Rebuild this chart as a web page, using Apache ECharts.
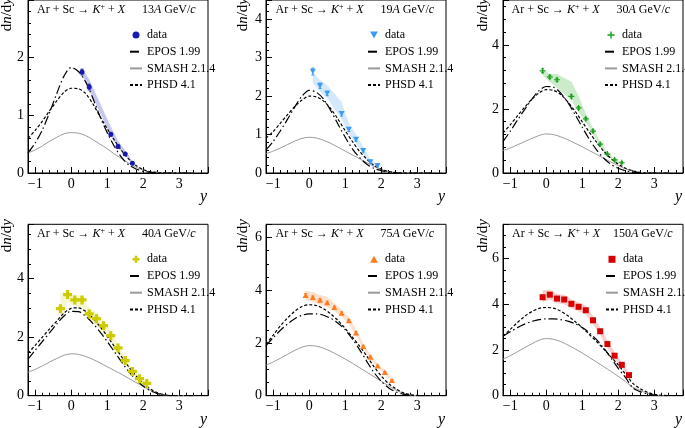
<!DOCTYPE html>
<html><head><meta charset="utf-8">
<script src="https://cdn.jsdelivr.net/npm/echarts@6/dist/echarts.min.js"></script>
<style>html,body{margin:0;padding:0;background:#fff}#c{width:685px;height:428px}</style>
</head><body><div id="c"></div>
<script>
// ---- model rapidity grid ----
const rapidityGrid = [-1.2,-1.0,-0.8,-0.6,-0.4,-0.2,0,0.2,0.4,0.6,0.8,1.0,1.2,1.4,1.6,1.8,2.0,2.2,2.4,2.6,2.8,3.0,3.2,3.4];

// ---- 13A GeV/c ----
const epos13  = [0.35,0.52,0.75,1.05,1.38,1.68,1.83,1.76,1.58,1.3,0.98,0.7,0.46,0.27,0.14,0.07,0.03,0.01,0,0,0,0,0,0];
const phsd13  = [0.6,0.74,0.9,1.08,1.25,1.4,1.47,1.46,1.38,1.2,0.98,0.77,0.57,0.39,0.24,0.13,0.06,0.02,0.01,0,0,0,0,0];
const smash13 = [0.35,0.4,0.47,0.55,0.62,0.68,0.7,0.69,0.65,0.58,0.5,0.42,0.33,0.25,0.17,0.1,0.05,0.02,0.01,0,0,0,0,0];
const dataX13 = [0.3,0.5,1.1,1.3,1.5,1.7];
const dataY13 = [1.75,1.49,0.67,0.46,0.33,0.17];
const err13   = [0.05,0.05,0.03,0.03,0.02,0.02];
const sysLo13 = [1.70,1.45,0.64,0.44,0.30,0.15];
const sysHi13 = [1.82,1.62,0.80,0.56,0.39,0.21];

// ---- 19A GeV/c ----
const epos19  = [0.6,0.82,1.1,1.4,1.72,2.0,2.15,2.1,1.92,1.62,1.27,0.93,0.63,0.4,0.23,0.12,0.06,0.02,0.01,0,0,0,0,0];
const phsd19  = [0.9,1.08,1.3,1.52,1.73,1.9,2.0,1.98,1.87,1.67,1.4,1.1,0.82,0.56,0.36,0.2,0.1,0.04,0.01,0,0,0,0,0];
const smash19 = [0.5,0.57,0.65,0.74,0.83,0.9,0.93,0.91,0.85,0.77,0.67,0.57,0.47,0.37,0.27,0.17,0.09,0.04,0.01,0,0,0,0,0];
const dataX19 = [0.1,0.3,0.5,0.9,1.1,1.3,1.5,1.7,1.9];
const dataY19 = [2.64,2.27,2.07,1.54,1.13,0.87,0.58,0.29,0.19];
const err19   = [0.09,0.07,0.06,0.06,0.05,0.05,0.04,0.04,0.03];
const sysLo19 = [2.35,2.12,1.95,1.40,1.00,0.78,0.50,0.24,0.15];
const sysHi19 = [2.62,2.42,2.28,1.85,1.30,1.00,0.68,0.36,0.22];

// ---- 30A GeV/c ----
const epos30  = [0.98,1.3,1.65,1.98,2.3,2.57,2.7,2.68,2.5,2.2,1.83,1.43,1.05,0.72,0.46,0.27,0.15,0.07,0.03,0.01,0,0,0,0];
const phsd30  = [1.25,1.5,1.78,2.05,2.3,2.5,2.6,2.58,2.45,2.22,1.93,1.6,1.27,0.96,0.68,0.45,0.28,0.15,0.07,0.02,0,0,0,0];
const smash30 = [0.7,0.78,0.88,0.98,1.08,1.17,1.22,1.2,1.13,1.04,0.93,0.82,0.7,0.58,0.46,0.34,0.23,0.13,0.06,0.02,0,0,0,0];
const dataX30 = [-0.1,0.1,0.3,0.7,0.9,1.1,1.3,1.5,1.7,1.9,2.1];
const dataY30 = [3.19,3.0,2.91,2.39,2.03,1.69,1.31,0.9,0.59,0.41,0.32];
const err30   = [0.06,0.05,0.05,0.05,0.04,0.04,0.04,0.03,0.03,0.03,0.03];
const sysLo30 = [3.05,2.85,2.65,2.28,1.90,1.60,1.22,0.83,0.53,0.37,0.29];
const sysHi30 = [3.22,3.10,3.09,2.85,2.40,1.85,1.40,0.98,0.65,0.45,0.34];

// ---- 40A GeV/c ----
const epos40  = [1.25,1.55,1.85,2.15,2.45,2.72,2.88,2.87,2.72,2.47,2.18,1.85,1.5,1.15,0.82,0.55,0.33,0.17,0.07,0.02,0,0,0,0];
const phsd40  = [1.45,1.72,2.0,2.28,2.55,2.82,2.98,3.0,2.88,2.65,2.36,2.03,1.68,1.33,0.98,0.68,0.42,0.23,0.1,0.03,0,0,0,0];
const smash40 = [0.8,0.9,1.02,1.15,1.27,1.38,1.43,1.41,1.34,1.24,1.12,0.99,0.86,0.73,0.59,0.45,0.31,0.18,0.08,0.02,0,0,0,0];
const dataX40 = [-0.3,-0.1,0.1,0.3,0.5,0.7,0.9,1.1,1.3,1.5,1.7,1.9,2.1];
const dataY40 = [2.97,3.45,3.27,3.27,2.79,2.63,2.39,2.05,1.63,1.2,0.83,0.58,0.42];
const err40   = [0.06,0.06,0.05,0.05,0.05,0.05,0.04,0.04,0.04,0.03,0.03,0.03,0.03];
const sysLo40 = [2.60,3.20,3.05,3.00,2.60,2.40,2.20,1.90,1.50,1.10,0.75,0.52,0.38];
const sysHi40 = [3.50,3.55,3.40,3.40,3.00,2.85,2.55,2.20,1.75,1.30,0.90,0.63,0.46];

// ---- 75A GeV/c ----
const epos75  = [1.9,2.2,2.48,2.72,2.92,3.05,3.1,3.1,3.05,2.93,2.75,2.5,2.15,1.75,1.3,0.88,0.55,0.3,0.15,0.06,0.02,0,0,0];
const phsd75  = [1.95,2.3,2.65,2.95,3.2,3.38,3.45,3.42,3.3,3.1,2.85,2.55,2.22,1.88,1.5,1.1,0.75,0.47,0.27,0.12,0.04,0.01,0,0];
const smash75 = [1.15,1.28,1.42,1.57,1.72,1.84,1.9,1.88,1.8,1.68,1.54,1.39,1.23,1.06,0.89,0.72,0.55,0.38,0.22,0.1,0.03,0,0,0];
const dataX75 = [-0.1,0.1,0.3,0.5,0.7,0.9,1.1,1.3,1.5,1.7,1.9,2.1,2.3];
const dataY75 = [3.81,3.73,3.63,3.53,3.35,3.13,2.85,2.39,1.87,1.47,1.13,0.89,0.58];
const err75   = [0.06,0.05,0.05,0.05,0.05,0.05,0.04,0.04,0.04,0.04,0.03,0.03,0.03];
const sysLo75 = [3.62,3.55,3.45,3.35,3.20,3.00,2.72,2.28,1.77,1.38,1.05,0.82,0.52];
const sysHi75 = [4.00,3.92,3.82,3.75,3.50,3.27,2.98,2.52,1.98,1.57,1.22,0.97,0.65];

// ---- 150A GeV/c ----
const epos150  = [2.6,2.8,2.98,3.13,3.25,3.33,3.36,3.36,3.33,3.26,3.15,2.98,2.75,2.45,2.08,1.65,1.2,0.8,0.35,0.18,0.08,0.03,0,0];
const phsd150  = [2.6,2.9,3.2,3.47,3.68,3.82,3.86,3.83,3.7,3.5,3.25,2.98,2.68,2.37,2.04,1.7,1.35,0.95,0.55,0.32,0.16,0.06,0.02,0];
const smash150 = [1.6,1.75,1.92,2.1,2.27,2.43,2.5,2.47,2.37,2.22,2.05,1.87,1.67,1.47,1.27,1.06,0.85,0.62,0.38,0.24,0.12,0.04,0,0];
const dataX150 = [-0.1,0.1,0.3,0.5,0.7,0.9,1.1,1.3,1.5,1.7,1.9,2.1,2.3];
const dataY150 = [4.31,4.42,4.25,4.21,4.02,3.89,3.74,3.3,2.82,2.26,1.75,1.35,0.9];
const err150   = [0.07,0.06,0.06,0.06,0.05,0.05,0.05,0.05,0.04,0.04,0.04,0.04,0.03];
const sysLo150 = [4.10,4.20,4.05,4.00,3.82,3.70,3.55,3.12,2.65,2.10,1.62,1.22,0.80];
const sysHi150 = [4.60,4.65,4.45,4.42,4.22,4.08,3.93,3.48,3.00,2.42,1.90,1.48,1.00];

// ---- panel labels ----
const energyLabels = ['13','19','30','40','75','150'];
const yMax = [3.0, 4.5, 5.4, 5.85, 6.5, 7.5];
const yInterval = [1, 1, 2, 2, 2, 2];
const yMinorSplit = [5, 5, 5, 4, 4, 4];

const SERIF = '"Liberation Serif", "Times New Roman", serif';
const W = 180;
const gridLeft = [28, 266, 503, 28, 266, 503];
const gridTop = [-2, -2, -2, 224.3, 224.3, 224.3];
const gridH = [175, 175, 175, 171.4, 171.4, 171.4];

const CROSS_THIN = 'path://M4,0H6V4H10V6H6V10H4V6H0V4H4Z';
const CROSS_THICK = 'path://M3.2,0H6.8V3.2H10V6.8H6.8V10H3.2V6.8H0V3.2H3.2Z';
const TRI_DOWN = 'path://M0,0L10,0L5,9Z';
const TRI_UP = 'path://M5,0L10,9L0,9Z';
const SQUARE = 'path://M0,0H10V10H0Z';

const panels = [
  {epos:epos13, phsd:phsd13, smash:smash13, dx:dataX13, dy:dataY13, err:err13, lo:sysLo13, hi:sysHi13,
   color:'#1a1ab0', band:'#c6c7f0', symbol:'circle', size:5, icon:'circle'},
  {epos:epos19, phsd:phsd19, smash:smash19, dx:dataX19, dy:dataY19, err:err19, lo:sysLo19, hi:sysHi19,
   color:'#3d9cf2', band:'#d3e8fb', symbol:TRI_DOWN, size:6, icon:TRI_DOWN},
  {epos:epos30, phsd:phsd30, smash:smash30, dx:dataX30, dy:dataY30, err:err30, lo:sysLo30, hi:sysHi30,
   color:'#1d9e1d', band:'#cbebcb', symbol:CROSS_THIN, size:6, icon:CROSS_THIN},
  {epos:epos40, phsd:phsd40, smash:smash40, dx:dataX40, dy:dataY40, err:err40, lo:sysLo40, hi:sysHi40,
   color:'#cccc00', band:'#f6f6d2', symbol:CROSS_THICK, size:9, icon:CROSS_THICK},
  {epos:epos75, phsd:phsd75, smash:smash75, dx:dataX75, dy:dataY75, err:err75, lo:sysLo75, hi:sysHi75,
   color:'#ff7b1c', band:'#fde1cf', symbol:TRI_UP, size:6, icon:TRI_UP},
  {epos:epos150, phsd:phsd150, smash:smash150, dx:dataX150, dy:dataY150, err:err150, lo:sysLo150, hi:sysHi150,
   color:'#d60000', band:'#f7cfcf', symbol:SQUARE, size:6, icon:SQUARE}
];

const legendLeft = [129, 367, 604, 129, 367, 605];
const legendTop = [28, 28, 28, 252.3, 252.3, 252.3];
const titleLeft = [37, 275.5, 511.5, 37, 275.5, 512];
const energyLeft = [142, 380.5, 616.5, 142, 380.5, 613];
const titleY = [10, 10, 10, 234, 234, 234];
const yTitleX = [7, 243, 483, 7, 243, 483];
const yTitleTop = [-2, -2, -2, 219, 219, 219];

const minus = v => String(v).replace('-', '\u2212');

const grids = [], xAxes = [], yAxes = [], series = [], legends = [], graphics = [];

panels.forEach((p, i) => {
  grids.push({left: gridLeft[i], top: gridTop[i], width: W, height: gridH[i],
    show: true, borderColor: '#000', borderWidth: 1, containLabel: false});
  xAxes.push({type:'value', gridIndex:i, min:-1.2, max:3.8, splitNumber:5,
    axisLine:{show:true, onZero:false, lineStyle:{color:'#000', width:1}},
    axisTick:{show:true, inside:true, length:6, lineStyle:{color:'#000'}},
    minorTick:{show:true, splitNumber:5, length:3, lineStyle:{color:'#000'}},
    splitLine:{show:false},
    axisLabel:{showMinLabel:false, showMaxLabel:false, fontFamily:SERIF, fontSize:14, color:'#000', margin:4, formatter:minus}
  });
  yAxes.push({type:'value', gridIndex:i, min:0, max:yMax[i], interval:yInterval[i],
    axisLine:{show:true, onZero:false, lineStyle:{color:'#000', width:1}},
    axisTick:{show:true, inside:true, length:6, lineStyle:{color:'#000'}},
    minorTick:{show:true, splitNumber:yMinorSplit[i], length:3, lineStyle:{color:'#000'}},
    splitLine:{show:false},
    axisLabel:{showMaxLabel:false, fontFamily:SERIF, fontSize:14, color:'#000', margin:4}
  });
  const sfx = '|' + i;
  // systematic band
  const bandData = p.dx.map((x, k) => [x, p.lo[k], p.hi[k]]);
  series.push({type:'custom', name:'band'+sfx, xAxisIndex:i, yAxisIndex:i, silent:true, clip:true, z:1,
    data: bandData,
    encode:{x:0, y:[1,2]},
    renderItem: (params, api) => {
      if (params.dataIndex !== 0) return null;
      const pts = [];
      for (let k = 0; k < bandData.length; k++) pts.push(api.coord([bandData[k][0], bandData[k][2]]));
      for (let k = bandData.length - 1; k >= 0; k--) pts.push(api.coord([bandData[k][0], bandData[k][1]]));
      return {type:'polygon', shape:{points:pts}, style:{fill:p.band, stroke:null}};
    }
  });
  const lineBase = (name, arr, style) => ({
    type:'line', name: name + sfx, xAxisIndex:i, yAxisIndex:i, symbol:'none', showSymbol:false,
    smooth:0.3, clip:true, z:3, silent:true,
    data: rapidityGrid.map((x, k) => [x, arr[k]]),
    lineStyle: style, itemStyle:{color: style.color}
  });
  series.push(lineBase('SMASH 2.1.4', p.smash, {color:'#9a9a9a', width:1, type:'solid'}));
  series.push(lineBase('EPOS 1.99', p.epos, {color:'#000', width:1.2, type:[9,3,1.5,3]}));
  series.push(lineBase('PHSD 4.1', p.phsd, {color:'#000', width:1.2, type:[3,2]}));
  // statistical error bars
  series.push({type:'custom', name:'err'+sfx, xAxisIndex:i, yAxisIndex:i, silent:true, clip:true, z:4,
    data: p.dx.map((x, k) => [x, p.dy[k], p.err[k]]),
    encode:{x:0, y:1},
    renderItem: (params, api) => {
      const x = api.value(0), y = api.value(1), e = api.value(2);
      const t = api.coord([x, y + e]), b = api.coord([x, y - e]);
      const st = {stroke:p.color, lineWidth:1};
      return {type:'group', children:[
        {type:'line', shape:{x1:t[0], y1:t[1], x2:b[0], y2:b[1]}, style:st},
        {type:'line', shape:{x1:t[0]-1.5, y1:t[1], x2:t[0]+1.5, y2:t[1]}, style:st},
        {type:'line', shape:{x1:b[0]-1.5, y1:b[1], x2:b[0]+1.5, y2:b[1]}, style:st}
      ]};
    }
  });
  series.push({type:'scatter', name:'data'+sfx, xAxisIndex:i, yAxisIndex:i, silent:true, z:5,
    symbol:p.symbol, symbolSize:p.size, symbolKeepAspect:true,
    itemStyle:{color:p.color, opacity:1},
    data: p.dx.map((x, k) => [x, p.dy[k]])
  });
  const hideSym = {opacity:0};
  legends.push({show:true, orient:'vertical', left:legendLeft[i], top:legendTop[i],
    itemWidth:12, itemHeight:7, itemGap:2.7, padding:0, selectedMode:false, symbolKeepAspect:true,
    data:[{name:'data'+sfx, icon:p.icon},
          {name:'EPOS 1.99'+sfx, itemStyle:hideSym},
          {name:'SMASH 2.1.4'+sfx, itemStyle:hideSym},
          {name:'PHSD 4.1'+sfx, itemStyle:hideSym}],
    formatter: n => n.split('|')[0],
    textStyle:{fontFamily:SERIF, fontSize:12, color:'#000', lineHeight:14}
  });
  // in-panel title
  graphics.push({type:'text', x:titleLeft[i], y:titleY[i], silent:true, style:{
    text:'{n|Ar + Sc \u2192 }{i|K}{s|+}{n| + }{i|X}',
    verticalAlign:'middle', align:'left',
    rich:{n:{fontFamily:SERIF, fontSize:12, fill:'#000', lineHeight:14},
          i:{fontFamily:SERIF, fontSize:12, fontStyle:'italic', fill:'#000', lineHeight:14},
          s:{fontFamily:SERIF, fontSize:8, fill:'#000', verticalAlign:'top', lineHeight:8}}
  }});
  graphics.push({type:'text', x:energyLeft[i], y:titleY[i], silent:true, style:{
    text:'{n|' + energyLabels[i] + '}{i|A}{n| GeV/}{i|c}',
    verticalAlign:'middle', align:'left',
    rich:{n:{fontFamily:SERIF, fontSize:12, fill:'#000'},
          i:{fontFamily:SERIF, fontSize:12, fontStyle:'italic', fill:'#000'}}
  }});
  // y-axis title
  graphics.push({type:'text', x:yTitleX[i], y:yTitleTop[i], rotation:Math.PI/2, silent:true, style:{
    text:'{n|d}{i|n}{n|/d}{i|y}', align:'right', verticalAlign:'middle',
    rich:{n:{fontFamily:SERIF, fontSize:15, fill:'#000'},
          i:{fontFamily:SERIF, fontSize:15, fontStyle:'italic', fill:'#000'}}
  }});
  // x-axis title
  graphics.push({type:'text', x:gridLeft[i] + W - 1, y:gridTop[i] + gridH[i] + 24, silent:true, style:{
    text:'y', align:'right', verticalAlign:'middle',
    font:'italic 16px "Liberation Serif", serif', fill:'#000'
  }});
});

const chart = echarts.init(document.getElementById('c'), null, {renderer:'canvas'});
chart.setOption({
  animation:false,
  backgroundColor:'#fff',
  grid:grids, xAxis:xAxes, yAxis:yAxes, series:series, legend:legends,
  graphic:graphics
});
</script></body></html>
